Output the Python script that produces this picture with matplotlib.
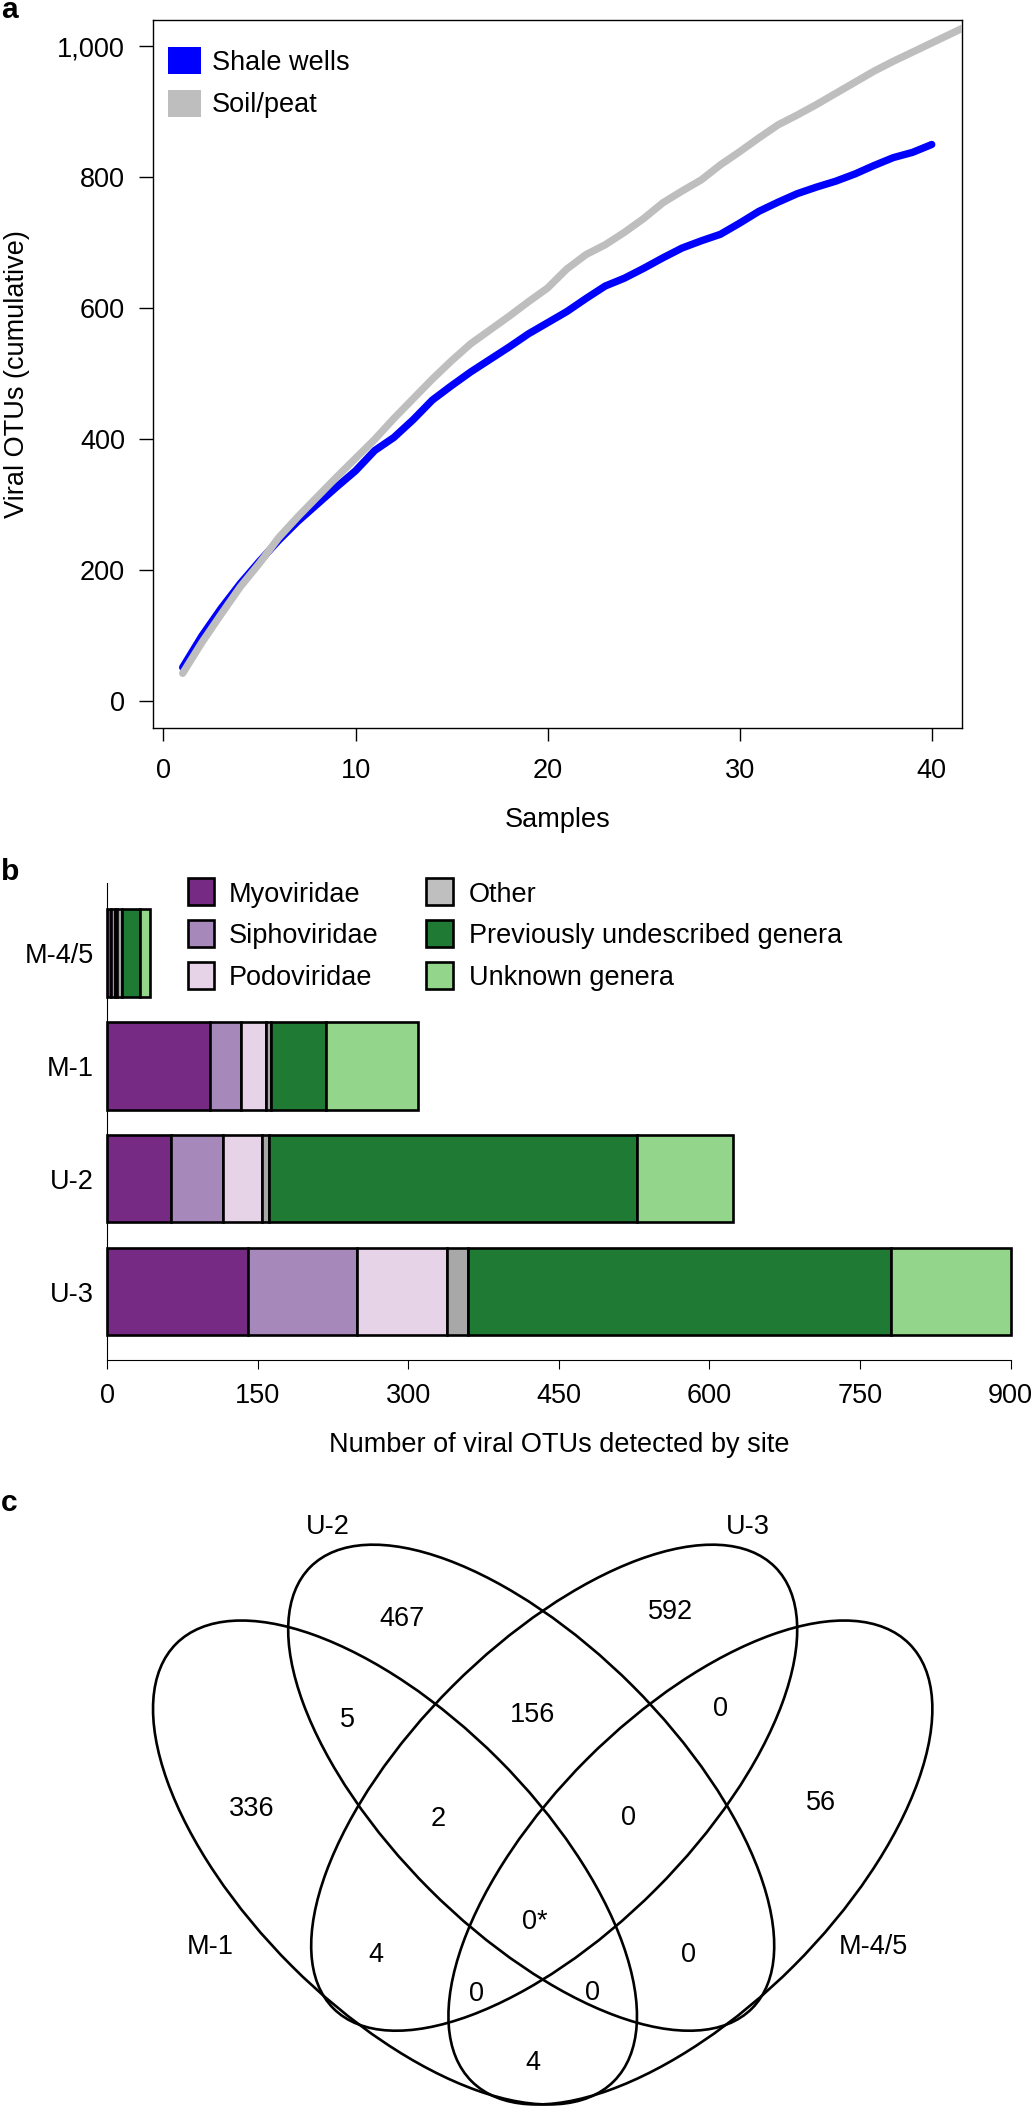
import matplotlib
matplotlib.use("Agg")
import matplotlib.pyplot as plt
from matplotlib.patches import Ellipse, Rectangle
from matplotlib.ticker import FuncFormatter

plt.rcParams['font.family'] = ['Liberation Sans', 'DejaVu Sans']

# ---- panel a: cumulative viral OTUs ----
shale_samples = list(range(1, 41))
shale_wells = [52, 100, 142, 180, 214, 246, 275, 301, 327, 352,
               383, 403, 430, 460, 482, 503, 522, 541, 561, 578,
               595, 615, 634, 646, 661, 677, 692, 703, 713, 730,
               748, 762, 775, 785, 794, 805, 818, 830, 838, 850]
soil_samples = list(range(1, 43))
soil_peat = [43, 90, 133, 175, 211, 250, 282, 312, 342, 371,
             400, 432, 462, 492, 520, 546, 567, 588, 610, 631,
             660, 682, 697, 716, 737, 761, 779, 796, 819, 839,
             860, 880, 895, 911, 928, 945, 962, 977, 991, 1005,
             1019, 1033]
a_xticks = [0, 10, 20, 30, 40]
a_yticks = [0, 200, 400, 600, 800, 1000]

# ---- panel b: viral OTUs per site, stacked ----
sites = ['U-3', 'U-2', 'M-1', 'M-4/5']          # bottom to top
categories = ['Myoviridae', 'Siphoviridae', 'Podoviridae', 'Other',
              'Previously undescribed genera', 'Unknown genera']
myoviridae = [140, 63, 102, 4]
siphoviridae = [109, 52, 31, 4]
podoviridae = [89, 39, 25, 2]
other = [21, 7, 5, 5]
prev_undescribed = [422, 367, 55, 18]
unknown_genera = [119, 95, 92, 10]
b_xticks = [0, 150, 300, 450, 600, 750, 900]

# ---- panel c: shared viral OTUs (Venn) ----
venn_sets = ['M-1', 'U-2', 'U-3', 'M-4/5']
venn_regions = ['M-1', 'U-2', 'U-3', 'M-4/5',
                'M-1&U-2', 'U-2&U-3', 'U-3&M-4/5',
                'M-1&U-2&U-3', 'U-2&U-3&M-4/5', 'all',
                'M-1&U-3', 'U-2&M-4/5',
                'M-1&U-3&M-4/5', 'M-1&U-2&M-4/5', 'M-1&M-4/5']
venn_counts = [336, 467, 592, 56, 5, 156, 0, 2, 0, 0, 4, 0, 0, 0, 4]
venn_notes = {'all': '*'}

# ---------------- layout (pixel frame of the 1032 x 2109 image) ----------------
W, H = 1032, 2109
FS = 19.5
bar_colors = ['#762A83', '#A688BA', '#E6D3E7', '#A8A8A8', '#1F7A34', '#93D58B']
legend_colors = ['#762A83', '#A688BA', '#E6D3E7', '#BFBFBF', '#1F7A34', '#93D58B']

# ellipse geometry: centre x, centre y, semi-major, semi-minor, angle
venn_shapes = {
    'M-1': (395.0, 1862.5, 309.4, 146.2, 45),
    'U-2': (531.2, 1787.7, 312.2, 143.7, 45),
    'U-3': (554.2, 1787.7, 312.2, 143.7, -45),
    'M-4/5': (690.4, 1862.5, 309.4, 146.2, -45),
}
venn_set_label_pos = {'M-1': (210, 1954.5), 'U-2': (328, 1534.5),
                      'U-3': (748, 1534.5), 'M-4/5': (873, 1953.5)}
venn_region_pos = {
    'M-1': (252, 1815.5), 'U-2': (402, 1625.5), 'U-3': (671, 1619),
    'M-4/5': (821, 1810.5), 'M-1&U-2': (347, 1727), 'U-2&U-3': (533, 1722.5),
    'U-3&M-4/5': (721, 1715.5), 'M-1&U-2&U-3': (438, 1826),
    'U-2&U-3&M-4/5': (628, 1825), 'all': (535, 1929), 'M-1&U-3': (375.5, 1962),
    'U-2&M-4/5': (688, 1961.5), 'M-1&U-3&M-4/5': (476, 2001),
    'M-1&U-2&M-4/5': (593, 2000.5), 'M-1&M-4/5': (533, 2070),
}


def frac(left, top, right, bottom):
    return [left / W, 1 - bottom / H, (right - left) / W, (bottom - top) / H]


fig = plt.figure(figsize=(W / 100, H / 100), dpi=100)

# ---------------- a ----------------
ax_a = fig.add_axes(frac(152.7, 20, 961.7, 727.7))
ax_a.plot(shale_samples, shale_wells, color='#0000FF', lw=5.3,
          solid_capstyle='round', solid_joinstyle='round', zorder=2)
ax_a.plot(soil_samples, soil_peat, color='#BEBEBE', lw=5.3,
          solid_capstyle='round', solid_joinstyle='round', zorder=3)
ax_a.set_xlim(-0.56, 41.56)
ax_a.set_ylim(-40, 1040)
ax_a.set_xticks(a_xticks)
ax_a.set_yticks(a_yticks)
ax_a.yaxis.set_major_formatter(FuncFormatter(lambda v, p: f"{int(v):,}"))
for sp in ax_a.spines.values():
    sp.set_linewidth(1.0)
ax_a.tick_params(axis='x', length=9.6, width=1, pad=12, labelsize=FS)
ax_a.tick_params(axis='y', length=10.4, width=1, pad=9.4, labelsize=FS)
ax_a.set_xlabel('Samples', fontsize=FS, labelpad=17)
ax_a.set_ylabel('Viral OTUs (cumulative)', fontsize=FS, labelpad=20)

# ---------------- b ----------------
ax_b = fig.add_axes(frac(107.3, 883, 1010.5, 1360))
series = [myoviridae, siphoviridae, podoviridae, other, prev_undescribed, unknown_genera]
left = [0] * len(sites)
ypos = list(range(len(sites)))
for vals, col in zip(series, bar_colors):
    ax_b.barh(ypos, vals, left=left, height=0.775, color=col,
              edgecolor='black', linewidth=1.9, clip_on=False, zorder=3)
    left = [l + v for l, v in zip(left, vals)]
ax_b.set_xlim(0, 900)
ax_b.set_ylim(-0.607, 3.62)
ax_b.set_xticks(b_xticks)
ax_b.set_yticks(ypos)
ax_b.set_yticklabels(sites)
ax_b.spines['top'].set_visible(False)
ax_b.spines['right'].set_visible(False)
ax_b.spines['left'].set_linewidth(0.8)
ax_b.spines['bottom'].set_linewidth(0.8)
ax_b.tick_params(axis='x', length=6.5, width=0.8, pad=9.9, labelsize=FS)
ax_b.tick_params(axis='y', length=0, pad=9.6, labelsize=FS)
ax_b.set_xlabel('Number of viral OTUs detected by site', fontsize=FS, labelpad=16.5)

# ---------------- overlay in pixel coordinates ----------------
ov = fig.add_axes([0, 0, 1, 1], zorder=10)
ov.set_xlim(0, W)
ov.set_ylim(H, 0)
ov.axis('off')
ov.patch.set_alpha(0)

# panel letters
for letter, base in [('a', 18), ('b', 880), ('c', 1511)]:
    ov.text(1, base, letter, fontsize=21.6, fontweight='bold', va='baseline', ha='left')

# legend of panel a
for (name, col), top, base in zip([('Shale wells', '#0000FF'), ('Soil/peat', '#BEBEBE')],
                                   [47, 90], [70, 112.5]):
    ov.add_patch(Rectangle((168, top), 33, 27, facecolor=col, edgecolor='none'))
    ov.text(212, base, name, fontsize=FS, va='baseline', ha='left')

# legend of panel b
sq_tops = [878, 920, 961.7]
text_base = [901.7, 943.3, 985]
for i, (name, col) in enumerate(zip(categories, legend_colors)):
    c, r = divmod(i, 3)
    sx = [187.6, 426][c]
    tx = [229, 468.7][c]
    ov.add_patch(Rectangle((sx, sq_tops[r]), 26.5, 27, facecolor=col,
                           edgecolor='black', linewidth=1.9))
    ov.text(tx, text_base[r], name, fontsize=FS, va='baseline', ha='left')

# venn diagram
for name in venn_sets:
    cx, cy, a, b, ang = venn_shapes[name]
    ov.add_patch(Ellipse((cx, cy), 2 * a, 2 * b, angle=ang, facecolor='none',
                         edgecolor='black', linewidth=1.9))
    lx, ly = venn_set_label_pos[name]
    ov.text(lx, ly, name, fontsize=FS, ha='center', va='baseline')
for region, n in zip(venn_regions, venn_counts):
    x, y = venn_region_pos[region]
    ov.text(x, y, f"{n}{venn_notes.get(region, '')}", fontsize=FS,
            ha='center', va='baseline')

fig.savefig('out.png', dpi=100)
